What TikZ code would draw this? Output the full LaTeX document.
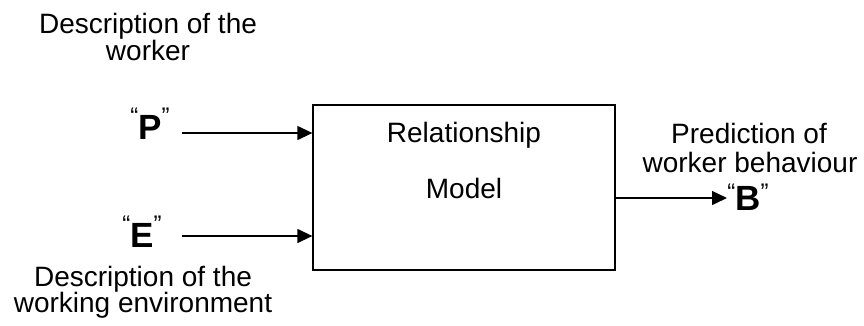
\documentclass[tikz,border=0pt]{standalone}
\usepackage{fontspec}
\setmainfont{Liberation Sans}
\usetikzlibrary{arrows.meta}
\newcommand\qmark[2]{{\fontsize{24}{24}\selectfont\raisebox{#1}{#2}}}
\newcommand\qletter[2][15pt]{\qmark{#1}{“}{\fontsize{35}{35}\selectfont\bfseries #2}\qmark{#1}{”}}
\begin{document}
\begin{tikzpicture}[x=1pt,y=-1pt,
  lbl/.style={inner sep=0pt,anchor=base,font=\fontsize{28}{28}\selectfont},
  letter/.style={inner sep=0pt,anchor=base},
  conn/.style={line width=1.3pt,-{Triangle[length=15pt,width=14pt]}},
  modelbox/.style={draw,line width=1.3pt,minimum width=302pt,minimum height=165pt,inner sep=0pt}]
\useasboundingbox (0,0) rectangle (864,325);
% box
\node[modelbox] (box) at (464,187.5) {};
\node[lbl] (rel) at (464,142) {Relationship};
\node[lbl] (mod) at (464,198) {Model};
% top label
\node[lbl] (wk1) at (148,33) {Description of the};
\node[lbl] (wk2) at (148,60) {worker};
% bottom label
\node[lbl] (en1) at (143,286) {Description of the};
\node[lbl] (en2) at (143,312) {working environment};
% right label
\node[lbl] (pr1) at (749,143) {Prediction of};
\node[lbl] (pr2) at (750,172) {worker behaviour};
% letters
\node[letter] (P) at (150,139) {\qletter{P}};
\node[letter] (E) at (142,247) {\qletter{E}};
\node[letter] (B) at (748,210) {\qletter[10pt]{B}};
% connectors
\coordinate (ps) at (182,133);
\coordinate (es) at (182,236);
\coordinate (be) at (727,198);
\draw[conn] (ps) -- (ps -| box.west);
\draw[conn] (es) -- (es -| box.west);
\draw[conn] (be -| box.east) -- (be);
\end{tikzpicture}
\end{document}
